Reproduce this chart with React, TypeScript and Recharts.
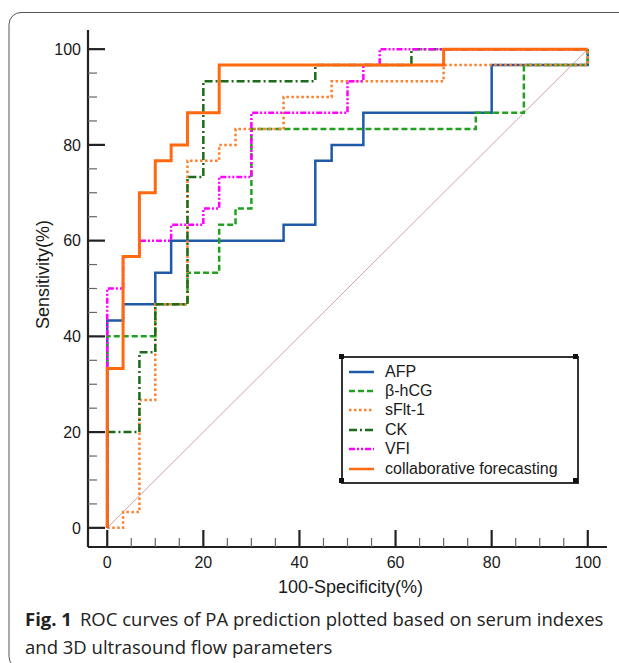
import React from 'react';
import { LineChart, Line, XAxis, YAxis } from 'recharts';

// ROC steps, as (100-specificity, sensitivity) pairs
const afpPoints = [
  { x: 0, y: 0 }, { x: 0, y: 43.3 }, { x: 3.3, y: 43.3 }, { x: 3.3, y: 46.7 },
  { x: 10, y: 46.7 }, { x: 10, y: 53.3 }, { x: 13.3, y: 53.3 }, { x: 13.3, y: 60 },
  { x: 36.7, y: 60 }, { x: 36.7, y: 63.3 }, { x: 43.3, y: 63.3 }, { x: 43.3, y: 76.7 },
  { x: 46.7, y: 76.7 }, { x: 46.7, y: 80 }, { x: 53.3, y: 80 }, { x: 53.3, y: 86.7 },
  { x: 80, y: 86.7 }, { x: 80, y: 96.7 }, { x: 100, y: 96.7 }, { x: 100, y: 100 },
];

const hcgPoints = [
  { x: 0, y: 0 }, { x: 0, y: 40 }, { x: 10, y: 40 }, { x: 10, y: 46.7 },
  { x: 16.7, y: 46.7 }, { x: 16.7, y: 53.3 }, { x: 23.3, y: 53.3 }, { x: 23.3, y: 63.3 },
  { x: 26.7, y: 63.3 }, { x: 26.7, y: 66.7 }, { x: 30, y: 66.7 }, { x: 30, y: 83.3 },
  { x: 76.7, y: 83.3 }, { x: 76.7, y: 86.7 }, { x: 86.7, y: 86.7 }, { x: 86.7, y: 96.7 },
  { x: 100, y: 96.7 }, { x: 100, y: 100 },
];

const sflt1Points = [
  { x: 0, y: 0 }, { x: 3.3, y: 0 }, { x: 3.3, y: 3.3 }, { x: 6.7, y: 3.3 },
  { x: 6.7, y: 26.7 }, { x: 10, y: 26.7 }, { x: 10, y: 46.7 }, { x: 16.7, y: 46.7 },
  { x: 16.7, y: 76.7 }, { x: 23.3, y: 76.7 }, { x: 23.3, y: 80 }, { x: 26.7, y: 80 },
  { x: 26.7, y: 83.3 }, { x: 36.7, y: 83.3 }, { x: 36.7, y: 90 }, { x: 46.7, y: 90 },
  { x: 46.7, y: 93.3 }, { x: 70, y: 93.3 }, { x: 70, y: 96.7 }, { x: 100, y: 96.7 },
  { x: 100, y: 100 },
];

const ckPoints = [
  { x: 0, y: 0 }, { x: 0, y: 20 }, { x: 6.7, y: 20 }, { x: 6.7, y: 36.7 },
  { x: 10, y: 36.7 }, { x: 10, y: 46.7 }, { x: 16.7, y: 46.7 }, { x: 16.7, y: 73.3 },
  { x: 20, y: 73.3 }, { x: 20, y: 93.3 }, { x: 43.3, y: 93.3 }, { x: 43.3, y: 96.7 },
  { x: 63.3, y: 96.7 }, { x: 63.3, y: 100 }, { x: 100, y: 100 },
];

const vfiPoints = [
  { x: 0, y: 0 }, { x: 0, y: 50 }, { x: 3.3, y: 50 }, { x: 3.3, y: 56.7 },
  { x: 6.7, y: 56.7 }, { x: 6.7, y: 60 }, { x: 13.3, y: 60 }, { x: 13.3, y: 63.3 },
  { x: 20, y: 63.3 }, { x: 20, y: 66.7 }, { x: 23.3, y: 66.7 }, { x: 23.3, y: 73.3 },
  { x: 30, y: 73.3 }, { x: 30, y: 86.7 }, { x: 50, y: 86.7 }, { x: 50, y: 93.3 },
  { x: 53.3, y: 93.3 }, { x: 53.3, y: 96.7 }, { x: 56.7, y: 96.7 }, { x: 56.7, y: 100 },
  { x: 100, y: 100 },
];

const combinedPoints = [
  { x: 0, y: 0 }, { x: 0, y: 33.3 }, { x: 3.3, y: 33.3 }, { x: 3.3, y: 56.7 },
  { x: 6.7, y: 56.7 }, { x: 6.7, y: 70 }, { x: 10, y: 70 }, { x: 10, y: 76.7 },
  { x: 13.3, y: 76.7 }, { x: 13.3, y: 80 }, { x: 16.7, y: 80 }, { x: 16.7, y: 86.7 },
  { x: 23.3, y: 86.7 }, { x: 23.3, y: 96.7 }, { x: 70, y: 96.7 }, { x: 70, y: 100 },
  { x: 100, y: 100 },
];

const chancePoints = [{ x: 0, y: 0 }, { x: 100, y: 100 }];

const tickValues = [0, 5, 10, 15, 20, 25, 30, 35, 40, 45, 50, 55, 60, 65, 70, 75, 80, 85, 90, 95, 100];

const series = [
  { name: 'AFP', data: afpPoints, color: '#1f5aa6', dash: undefined, width: 2.5 },
  { name: 'β-hCG', data: hcgPoints, color: '#22a022', dash: '6 3', width: 2.5 },
  { name: 'sFlt-1', data: sflt1Points, color: '#ff7f2a', dash: '2.5 2.5', width: 2.5 },
  { name: 'CK', data: ckPoints, color: '#1b6b1b', dash: '8 3 2 3', width: 2.5 },
  { name: 'VFI', data: vfiPoints, color: '#ff00ff', dash: '6 2 2 2 2 2', width: 2.5 },
  { name: 'collaborative forecasting', data: combinedPoints, color: '#ff6a10', dash: undefined, width: 3 },
];

const axisFont = '"Liberation Sans", Arial, sans-serif';

// ticks point inward from the offset axis lines, minor every 5, labels every 20
const XTick = (props: any) => {
  const { x, y, payload } = props;
  const major = payload.value % 20 === 0;
  return (
    <g>
      <line x1={x} y1={y} x2={x} y2={y - (major ? 17 : 9)} stroke={major ? '#222' : '#666'} strokeWidth={major ? 2.2 : 1.2} />
      {major && (
        <text x={x} y={y + 20.5} textAnchor="middle" fontSize={16} fontFamily={axisFont} fill="#1a1a1a">
          {payload.value}
        </text>
      )}
    </g>
  );
};

const YTick = (props: any) => {
  const { x, y, payload } = props;
  const major = payload.value % 20 === 0;
  return (
    <g>
      <line x1={x} y1={y} x2={x + (major ? 17 : 9)} y2={y} stroke={major ? '#222' : '#666'} strokeWidth={major ? 2.2 : 1.2} />
      {major && (
        <text x={x - 7} y={y + 5.8} textAnchor="end" fontSize={16} fontFamily={axisFont} fill="#1a1a1a">
          {payload.value}
        </text>
      )}
    </g>
  );
};

const XTitle = (props: any) => {
  const vb = props.viewBox || { x: 88, y: 547, width: 519 };
  return (
    <text x={vb.x + vb.width / 2 + 3} y={vb.y + 46} textAnchor="middle" fontSize={18} fontFamily={axisFont} fill="#1a1a1a">
      100-Specificity(%)
    </text>
  );
};

const YTitle = (props: any) => {
  const vb = props.viewBox || { x: 28, y: 30, height: 517 };
  const cx = vb.x + 20.5;
  const cy = vb.y + vb.height / 2 - 14;
  return (
    <text x={cx} y={cy} transform={`rotate(-90, ${cx}, ${cy})`} textAnchor="middle" fontSize={18} fontFamily={axisFont} fill="#1a1a1a">
      Sensitivity(%)
    </text>
  );
};

const LegendBox = () => (
  <div
    style={{
      position: 'absolute',
      left: 341,
      top: 356,
      width: 234,
      height: 124,
      border: '2px solid #333',
      fontFamily: axisFont,
      fontSize: 16,
      color: '#1a1a1a',
    }}
  >
    {[[-3, -3], [-3, 231], [121, -3], [121, 231]].map(([t, l], i) => (
      <div key={i} style={{ position: 'absolute', top: t - 1, left: l - 1, width: 5, height: 5, background: '#111' }} />
    ))}
    {series.map((s, i) => (
      <div key={s.name} style={{ position: 'absolute', left: 5, top: 4 + i * 19.4, height: 19, display: 'flex', alignItems: 'center' }}>
        <svg width={27} height={6} style={{ marginRight: 10 }}>
          <line x1={1} y1={3} x2={26} y2={3} stroke={s.color} strokeWidth={2.5} strokeDasharray={s.dash} />
        </svg>
        <span style={{ whiteSpace: 'nowrap' }}>{s.name}</span>
      </div>
    ))}
  </div>
);

const captionFont = '"Open Sans", "Noto Sans", sans-serif';

export default function App() {
  return (
    <div style={{ position: 'absolute', left: 0, top: 0, width: 619, height: 663, background: '#fff', overflow: 'hidden' }}>
      <svg width={619} height={663} style={{ position: 'absolute', left: 0, top: 0 }}>
        <rect x={9} y={12.5} width={660} height={656} rx={12} fill="none" stroke="#555" strokeWidth={1} />
        <text x={25} y={626} fontFamily={captionFont} fontSize={18.5} fill="#222">
          <tspan fontWeight="bold">Fig. 1</tspan>
          <tspan dx={8}>ROC curves of PA prediction plotted based on serum indexes</tspan>
        </text>
        <text x={25} y={654} fontFamily={captionFont} fontSize={18.5} fill="#222">
          and 3D ultrasound flow parameters
        </text>
      </svg>
      <div style={{ position: 'absolute', left: 0, top: 0 }}>
        <LineChart width={619} height={663} margin={{ top: 30, right: 12, left: 28, bottom: 86 }}>
          <XAxis
            type="number"
            dataKey="x"
            domain={[-4, 104]}
            ticks={tickValues}
            interval={0}
            height={30}
            tickSize={0}
            tickMargin={0}
            tickLine={false}
            tick={<XTick />}
            axisLine={{ stroke: '#222', strokeWidth: 2.2 }}
            label={XTitle}
          />
          <YAxis
            type="number"
            dataKey="y"
            domain={[-4, 104]}
            ticks={tickValues}
            interval={0}
            width={60}
            tickSize={0}
            tickMargin={0}
            tickLine={false}
            tick={<YTick />}
            axisLine={{ stroke: '#222', strokeWidth: 2.2 }}
            label={YTitle}
          />
          <Line
            data={chancePoints}
            dataKey="y"
            type="linear"
            stroke="#d4a3a3"
            strokeWidth={1}
            dot={false}
            legendType="none"
            isAnimationActive={false}
          />
          {series.map((s) => (
            <Line
              key={s.name}
              data={s.data}
              dataKey="y"
              name={s.name}
              type="linear"
              stroke={s.color}
              strokeWidth={s.width}
              strokeDasharray={s.dash}
              dot={false}
              isAnimationActive={false}
            />
          ))}
        </LineChart>
      </div>
      <LegendBox />
    </div>
  );
}
